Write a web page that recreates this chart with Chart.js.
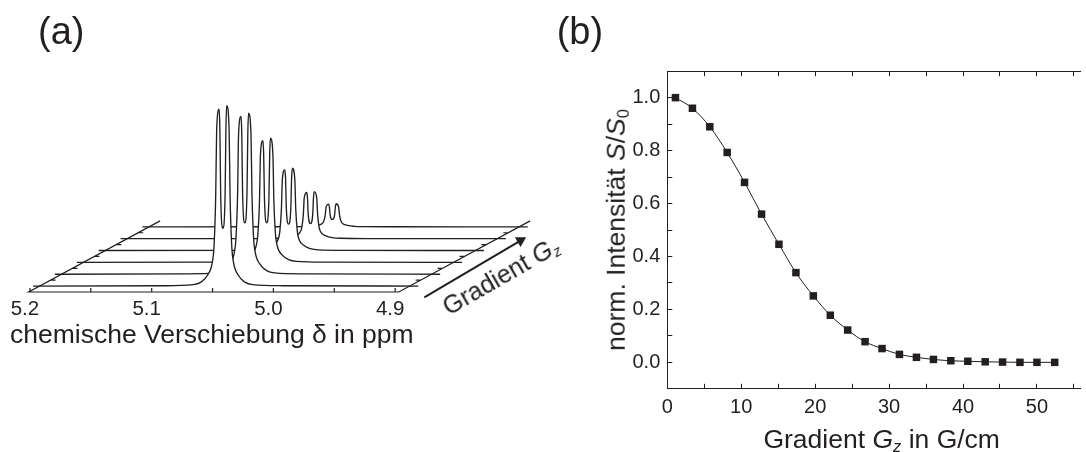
<!DOCTYPE html>
<html>
<head>
<meta charset="utf-8">
<script src="https://cdn.jsdelivr.net/npm/chart.js@4.4.1/dist/chart.umd.min.js"></script>
<style>
  html, body { margin: 0; padding: 0; background: #fff; }
  body { width: 1086px; height: 452px; position: relative; overflow: hidden;
         font-family: "Liberation Sans", Arial, sans-serif; color: #231f20; }
  canvas { position: absolute; top: 0; }
  #chartA { left: 0; }
  #chartB { left: 560px; }
  .lbl { position: absolute; white-space: nowrap; line-height: 1; font-size: 26.5px; }
  .panel-tag { font-size: 38px; top: 11.8px; }
  .lbl sub { font-size: 0.62em; vertical-align: -0.22em; line-height: 0; }
</style>
</head>
<body>
<canvas id="chartA" width="560" height="452"></canvas>
<canvas id="chartB" width="526" height="452"></canvas>

<div class="lbl panel-tag" style="left:38px">(a)</div>
<div class="lbl panel-tag" style="left:556.7px">(b)</div>
<div class="lbl" style="left:10px; top:320.6px">chemische Verschiebung δ in ppm</div>
<div class="lbl" style="left:449px; top:294.8px; font-size:25px; transform-origin:0 21.2px; transform:rotate(-30deg)">Gradient <i>G</i><sub><i>z</i></sub></div>
<div class="lbl" style="left:615.5px; top:229.5px; transform:translate(-50%,-50%) rotate(-90deg)">norm. Intensität <i>S</i>/<i>S</i><sub>0</sub></div>
<div class="lbl" style="left:881.7px; top:425.6px; transform:translateX(-50%)">Gradient <i>G</i><sub><i>z</i></sub> in G/cm</div>

<script>
// ---------- (a) stacked 1H spectra, doublet near 5.05 ppm ----------
const ppmLabels = [5.2, 5.1, 5.0, 4.9];
const ppmTicks = [5.2, 5.15, 5.1, 5.05, 5.0, 4.95, 4.9];
const frontAxis = [5.201, 4.897];        // ppm ends of the front axis
const specWindow = [5.2065, 4.890];      // ppm range of every trace
const doubletCenter = 5.0505;
// line shape of the front trace: ppm shift from centre, height relative to peak
const lineShift = [0.049, 0.0245, 0.018, 0.0127, 0.0086, 0.0072, 0.0059, 0.0051, 0.0031, 0.0025, 0.0018, 0,
                   -0.0018, -0.0025, -0.0031, -0.0051, -0.0059, -0.0072, -0.0086, -0.0127, -0.018, -0.0245, -0.049];
const lineRel = [0.002, 0.008, 0.022, 0.06, 0.135, 0.23, 0.5, 0.87, 0.98, 0.88, 0.5, 0.32,
                 0.5, 0.88, 1.0, 0.87, 0.5, 0.23, 0.135, 0.06, 0.022, 0.008, 0.002];
// peak height of each trace, front (weakest gradient) to back
const traceAmp = [1.0, 0.892, 0.688, 0.456, 0.261, 0.128];
const depthTicks = [1, 2, 3, 4, 5];
const depthSteps = 6;
const arrowX = [4.876, 4.797];
const arrowY = [-0.03, 0.285];

// ---------- (b) signal decay vs. gradient ----------
const gradient = [1.1, 3.4, 5.75, 8.1, 10.45, 12.75, 15.1, 17.4, 19.75, 22.05, 24.4, 26.75,
                  29.05, 31.4, 33.7, 36.0, 38.35, 40.65, 43.0, 45.35, 47.7, 50.0, 52.4];
const intensity = [1.0, 0.96, 0.89, 0.793, 0.68, 0.56, 0.446, 0.339, 0.251, 0.178, 0.122, 0.078,
                   0.052, 0.03, 0.019, 0.011, 0.006, 0.004, 0.002, 0.001, 0.0, 0.0, 0.0];
const gradTicks = [0, 5, 10, 15, 20, 25, 30, 35, 40, 45, 50, 55];
const intTicks = [-0.1, 0, 0.1, 0.2, 0.3, 0.4, 0.5, 0.6, 0.7, 0.8, 0.9, 1.0, 1.1];

const ink = '#231f20';
const fontFamily = '"Liberation Sans", Arial, sans-serif';

// projection of the gradient (depth) axis, in data units per step
const PX_PER_PPM = 1223;
const PX_PER_UNIT = 180.5;
const DX = 22 / PX_PER_PPM;
const DY = 11.85 / PX_PER_UNIT;

function traceData(k) {
    const sx = (k + 0.5) * DX, sy = (k + 0.5) * DY, a = traceAmp[k];
    const pts = [{x: specWindow[0] - sx, y: sy}];
    lineShift.forEach((d, i) => pts.push({x: doubletCenter + d - sx, y: sy + lineRel[i] * a}));
    pts.push({x: specWindow[1] - sx, y: sy});
    return pts;
}

function frameData() {
    const pts = [];
    const gap = () => pts.push({x: frontAxis[1], y: null});
    const tickUp = 4 / PX_PER_UNIT, tickSide = 5 / PX_PER_PPM;
    // front axis + two depth axes
    pts.push({x: frontAxis[0] - depthSteps * DX, y: depthSteps * DY}, {x: frontAxis[0], y: 0},
             {x: frontAxis[1], y: 0}, {x: frontAxis[1] - depthSteps * DX, y: depthSteps * DY});
    gap();
    ppmTicks.forEach(t => { pts.push({x: t, y: 0}, {x: t, y: tickUp}); gap(); });
    depthTicks.forEach(d => {
        pts.push({x: frontAxis[0] - d * DX, y: d * DY}, {x: frontAxis[0] - d * DX - tickSide, y: d * DY}); gap();
        pts.push({x: frontAxis[1] - d * DX, y: d * DY}, {x: frontAxis[1] - d * DX + tickSide, y: d * DY}); gap();
    });
    return pts;
}

const datasetsA = traceAmp.map((a, k) => ({
    data: traceData(k),
    borderColor: ink,
    borderWidth: 1.35,
    backgroundColor: '#ffffff',
    fill: {value: (k + 0.5) * DY},
    pointRadius: 0,
    cubicInterpolationMode: 'monotone'
}));
datasetsA.push({
    data: arrowX.map((x, i) => ({x, y: arrowY[i]})),
    borderColor: ink,
    borderWidth: 2,
    pointStyle: 'triangle',
    pointRotation: 59.5,
    pointRadius: ctx => ctx.dataIndex === 1 ? 6.5 : 0,
    pointBackgroundColor: ink,
    pointBorderWidth: 0,
    fill: false,
    clip: false
});
datasetsA.push({
    data: frameData(),
    borderColor: ink,
    borderWidth: 1.2,
    pointRadius: 0,
    fill: false,
    spanGaps: false,
    clip: false
});

new Chart(document.getElementById('chartA'), {
    type: 'line',
    data: { datasets: datasetsA },
    options: {
        responsive: false,
        animation: false,
        events: [],
        layout: { padding: { left: 10, right: 4, top: 40, bottom: 0 } },
        plugins: { legend: { display: false }, tooltip: { enabled: false } },
        scales: {
            x: {
                type: 'linear', reverse: true, min: 4.7699, max: 5.2164,
                grid: { display: false, drawTicks: false },
                border: { display: false },
                afterBuildTicks: s => { s.ticks = ppmLabels.map(v => ({value: v})); },
                afterFit: s => { s.height = 160; },
                ticks: { padding: 5, labelOffset: -5, autoSkip: false, maxRotation: 0,
                         color: ink, font: { family: fontFamily, size: 20.5 },
                         callback: v => v.toFixed(1) }
            },
            y: { display: false, min: 0, max: (292 - 40) / PX_PER_UNIT }
        }
    }
});

// ---------- panel (b) ----------
const tickGrid = { drawOnChartArea: false, tickLength: -5, tickColor: ink, tickWidth: 1 };
const axisBorder = { color: ink, width: 1 };
const tickFont = { family: fontFamily, size: 20 };

new Chart(document.getElementById('chartB'), {
    type: 'line',
    data: {
        datasets: [{
            data: gradient.map((g, i) => ({x: g, y: intensity[i]})),
            borderColor: ink,
            borderWidth: 1,
            pointStyle: 'rect',
            pointRadius: 5.3,
            pointBackgroundColor: ink,
            pointBorderWidth: 0,
            cubicInterpolationMode: 'monotone',
            fill: false,
            clip: false
        }]
    },
    options: {
        responsive: false,
        animation: false,
        events: [],
        layout: { padding: { left: 57.3, right: 0, top: 61.2, bottom: 23.2 } },
        plugins: { legend: { display: false }, tooltip: { enabled: false } },
        scales: {
            x: {
                type: 'linear', position: 'bottom', min: 0, max: 55.9,
                grid: tickGrid, border: axisBorder,
                afterBuildTicks: s => { s.ticks = gradTicks.map(v => ({value: v})); },
                afterFit: s => { s.height = 40; },
                ticks: { padding: 12, autoSkip: false, maxRotation: 0, color: ink, font: tickFont,
                         callback: v => (v % 10 === 0 && v <= 50) ? String(v) : '' }
            },
            x2: {
                type: 'linear', position: 'top', min: 0, max: 55.9,
                grid: tickGrid, border: axisBorder,
                afterBuildTicks: s => { s.ticks = gradTicks.map(v => ({value: v})); },
                afterFit: s => { s.height = 10; },
                ticks: { display: false }
            },
            y: {
                min: -0.1, max: 1.1,
                grid: tickGrid, border: axisBorder,
                afterBuildTicks: s => { s.ticks = intTicks.map(v => ({value: v})); },
                afterFit: s => { s.width = 50; },
                ticks: { padding: 12, autoSkip: false, color: ink, font: tickFont,
                         callback: v => {
                             const n = Math.round(v * 10);
                             return (n >= 0 && n <= 10 && n % 2 === 0) ? v.toFixed(1) : '';
                         } }
            }
        }
    }
});
</script>
</body>
</html>
